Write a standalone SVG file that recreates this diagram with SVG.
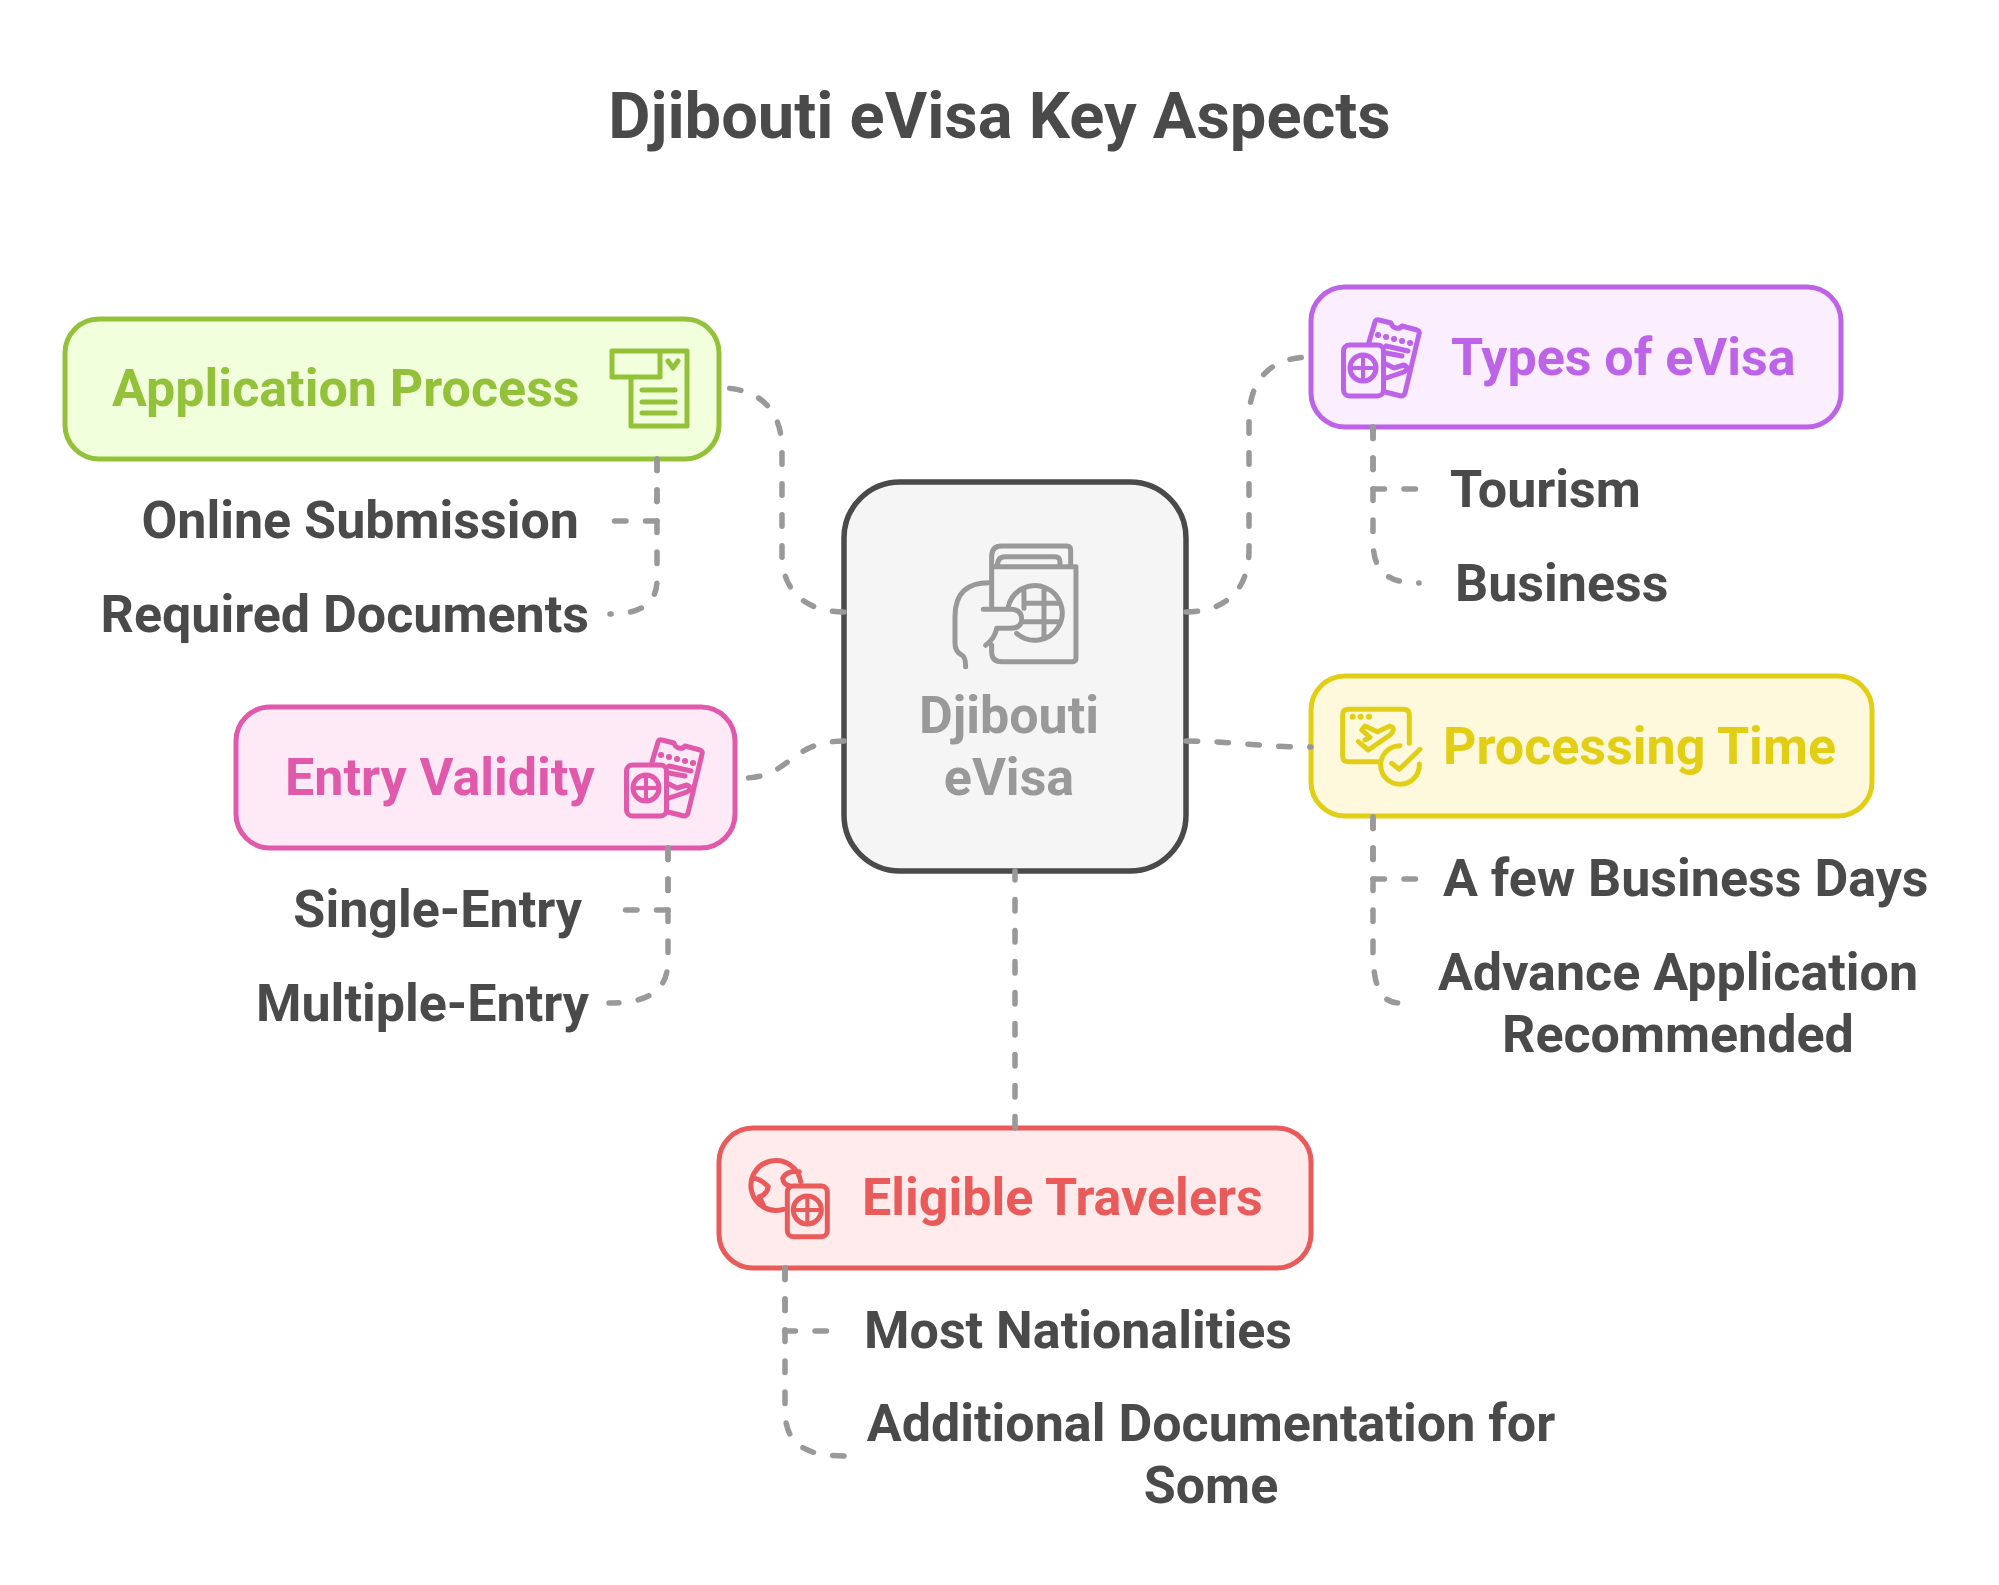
<svg xmlns="http://www.w3.org/2000/svg" width="1999" height="1585" viewBox="0 0 1999 1585">
<style>
text{font-family:Roboto,"Liberation Sans",sans-serif;font-weight:700;font-size:52px;fill:#4a4a4a}
.title{font-size:65px}
.n{stroke-width:5;rx:34px;ry:34px}
.ic{fill:none;stroke-width:5;stroke-linecap:round;stroke-linejoin:round}
.ic3{fill:none;stroke-width:15;stroke-linecap:round;stroke-linejoin:round}
#connectors path{fill:none;stroke:#999;stroke-width:5.5;stroke-linecap:round;stroke-dasharray:11.5 19.5}
</style>
<defs>
<g id="pt">
<rect x="1.5" y="27" width="40" height="51" rx="6"/>
<circle cx="21" cy="50" r="13"/>
<path d="M8 50H34M21 37V63" style="stroke-width:4"/>
<path d="M27 24L33 4Q34 1 37 2L49 5Q50 9 54 10Q58 11 60 8L75 12Q78 13 77 16L63 75Q62 78 59 78L43 74"/>
<path d="M36 17h.1M44 19h.1M52 21h.1M60 23h.1M68 25h.1" style="stroke-width:6"/>
<path d="M44 28L66 33M44 35L60 38"/>
<path d="M44 60L62 54Q68 50 62 47L52 50L44 46"/>
</g>
</defs>
<rect width="1999" height="1585" fill="#fff"/>
<text class="title" x="999.5" y="138" text-anchor="middle">Djibouti eVisa Key Aspects</text>
<g id="center">
<rect x="844" y="482" width="342" height="389" rx="56" fill="#f5f5f5" stroke="#4a4a4a" stroke-width="5.5"/>
<g transform="translate(820 460) scale(.3333)" class="ic3" stroke="#999">
<path d="M515 440V290Q515 258 545 258H740Q752 258 752 270V320M532 320Q532 290 555 290H705Q720 290 720 305V320M515 320H768V595Q768 605 758 605H545Q515 605 515 575V555"/>
<path d="M565 440A82 82 0 1 1 590 520M612 395V445M672 385V530M612 430H715M605 485H715"/>
<path d="M512 368Q405 365 405 470V550Q405 575 425 585Q437 590 437 620M490 448H575Q605 450 605 478Q605 505 570 505H530Q525 535 497 556"/>
</g>
<text x="1009" y="733" text-anchor="middle" style="fill:#999">Djibouti</text>
<text x="1009" y="795" text-anchor="middle" style="fill:#999">eVisa</text>
</g>
<g id="application">
<rect class="n" x="65" y="319" width="654" height="140" fill="#f2ffdc" stroke="#93c13a"/>
<text x="112" y="406" style="fill:#93c13a">Application Process</text>
<g transform="translate(610 349)" class="ic" stroke="#93c13a">
<path d="M2 2H50V28H2ZM50 2H77V77H21V28"/>
<path d="M58 12L63 19L68 12M32 41H65M32 53H65M32 64H65"/>
</g>
<text x="579" y="538" text-anchor="end">Online Submission</text>
<text x="589" y="632" text-anchor="end">Required Documents</text>
</g>
<g id="types">
<rect class="n" x="1311" y="287" width="530" height="140" fill="#faeeff" stroke="#bc63e8"/>
<use href="#pt" x="1342" y="318" class="ic" stroke="#bc63e8"/>
<text x="1451" y="375" style="fill:#bc63e8">Types of eVisa</text>
<text x="1450" y="507">Tourism</text>
<text x="1455" y="601">Business</text>
</g>
<g id="processing">
<rect class="n" x="1311" y="676" width="561" height="140" fill="#fef9dc" stroke="#e2cf15"/>
<g transform="translate(1290 660) scale(.3333)" class="ic3" stroke="#e2cf15">
<path d="M265 305H175Q158 305 158 288V165Q158 148 175 148H340Q358 148 358 165V250"/>
<path d="M188 170h.1M212 170h.1M237 170h.1" style="stroke-width:18"/>
<path d="M205 245L235 270L300 225Q320 205 300 198L262 215L225 198L215 210L240 232L225 240"/>
<path d="M330 257A58 58 0 1 0 388 312M305 310L328 328L390 268"/>
</g>
<text x="1443" y="764" style="fill:#e2cf15">Processing Time</text>
<text x="1443" y="896">A few Business Days</text>
<text x="1678" y="990" text-anchor="middle">Advance Application</text>
<text x="1678" y="1052" text-anchor="middle">Recommended</text>
</g>
<g id="entry">
<rect class="n" x="236" y="707" width="499" height="141" fill="#feeaf7" stroke="#e159ab"/>
<text x="285" y="795" style="fill:#e159ab">Entry Validity</text>
<use href="#pt" x="625" y="738" class="ic" stroke="#e159ab"/>
<text x="582" y="927" text-anchor="end">Single-Entry</text>
<text x="589" y="1021" text-anchor="end">Multiple-Entry</text>
</g>
<g id="eligible">
<rect class="n" x="719" y="1128" width="592" height="140" fill="#ffebeb" stroke="#e95b5b"/>
<g transform="translate(700 1110) scale(.3333)" class="ic3" stroke="#e95b5b">
<path d="M302 215A75 75 0 1 0 250 298M298 185Q260 180 248 205Q250 225 270 228M158 205Q180 205 205 230Q200 255 178 260L190 285"/>
<rect x="262" y="228" width="120" height="152" rx="18"/>
<circle cx="322" cy="300" r="42"/>
<path d="M280 300H364M322 258V342" style="stroke-width:12"/>
</g>
<text x="862" y="1215" style="fill:#e95b5b">Eligible Travelers</text>
<text x="864" y="1348">Most Nationalities</text>
<text x="1211" y="1441" text-anchor="middle">Additional Documentation for</text>
<text x="1211" y="1503" text-anchor="middle">Some</text>
</g>
<g id="connectors">
<path d="M844 612C805 612 782 590 782 555V450C782 410 760 390 725 388"/>
<path d="M1186 612C1225 612 1249 590 1249 550V420C1249 380 1270 357 1311 357"/>
<path d="M1186 741C1230 741 1260 747 1311 747"/>
<path d="M844 741C790 741 790 778 744 778"/>
<path d="M1015 1128V871"/>
<path d="M657 459V521H612"/>
<path d="M657 459V580C657 604 640 614 610 614"/>
<path d="M1373 427V489H1419"/>
<path d="M1373 427V540C1373 570 1385 583 1419 583"/>
<path d="M1373 817V879H1419"/>
<path d="M1373 817V950C1373 985 1380 1003 1400 1003"/>
<path d="M668 848V910H622"/>
<path d="M668 848V960C668 990 650 1003 609 1003"/>
<path d="M785 1268V1331H829"/>
<path d="M785 1268V1410C785 1440 800 1456 844 1456"/>
</g>
</svg>
